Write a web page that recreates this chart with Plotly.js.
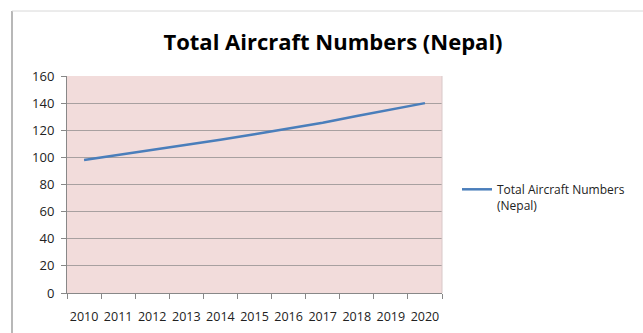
<!DOCTYPE html>
<html>
<head>
<meta charset="utf-8">
<script src="https://cdn.plot.ly/plotly-3.0.1.min.js"></script>
<style>
html,body{margin:0;padding:0;background:#fff;}
#chart{width:643px;height:333px;}
</style>
</head>
<body>
<div id="chart"></div>
<script>
const years = ["2010","2011","2012","2013","2014","2015","2016","2017","2018","2019","2020"];
const aircraft = [98, 101.7, 105.4, 109, 113, 117, 121, 125.5, 130.5, 135, 140];
const seriesName = "Total Aircraft Numbers<br>(Nepal)";
const chartTitle = "Total Aircraft Numbers (Nepal)";
const yTicks = [0, 20, 40, 60, 80, 100, 120, 140, 160];

const W = 643, H = 333;
const m = {l: 67, r: 201, t: 76, b: 40};
const pw = W - m.l - m.r, ph = H - m.t - m.b;
const px = x => (x - m.l) / pw;
const py = y => (H - m.b - y) / ph;

const font = "Open Sans, Liberation Sans, sans-serif";

Plotly.newPlot("chart", [{
  x: years,
  y: aircraft,
  type: "scatter",
  mode: "lines",
  name: seriesName,
  line: {color: "#4a7ebb", width: 2.5},
  showlegend: true
}], {
  width: W, height: H,
  margin: m,
  paper_bgcolor: "#ffffff",
  plot_bgcolor: "#f2dcdb",
  title: {
    text: "<b>" + chartTitle + "</b>",
    font: {family: font, size: 22, color: "#000"},
    x: 333 / W, xanchor: "center",
    y: 1 - 42 / H, yanchor: "middle"
  },
  xaxis: {
    type: "category",
    range: [-0.5, years.length - 0.5],
    tickson: "boundaries",
    tickangle: 0,
    ticks: "outside", ticklen: 5, tickcolor: "#888",
    showline: true, linecolor: "#888", linewidth: 1,
    showgrid: false, zeroline: false,
    tickfont: {family: font, size: 12.5, color: "#222"},
    ticklabelstandoff: 12,
    fixedrange: true
  },
  yaxis: {
    range: [0, 160],
    tickvals: yTicks,
    ticks: "outside", ticklen: 5, tickcolor: "#888",
    showline: true, linecolor: "#888", linewidth: 1,
    showgrid: true, gridcolor: "#a8a0a0", gridwidth: 1,
    zeroline: false,
    tickfont: {family: font, size: 13, color: "#222"},
    ticklabelstandoff: 4,
    fixedrange: true
  },
  legend: {
    x: px(457), xanchor: "left",
    y: py(175), yanchor: "top",
    valign: "top",
    bgcolor: "rgba(0,0,0,0)",
    font: {family: font, size: 12, color: "#222"},
    tracegroupgap: 0
  },
  shapes: [
    {type: "line", xref: "paper", yref: "paper", x0: px(12), x1: px(12), y0: py(11), y1: py(340), line: {color: "#a0a0a0", width: 1.5}},
    {type: "line", xref: "paper", yref: "paper", x0: px(12), x1: px(650), y0: py(11), y1: py(11), line: {color: "#d8d8d8", width: 1}},
    {type: "line", xref: "paper", yref: "paper", x0: 1, x1: 1, y0: 0, y1: 1, line: {color: "#d8c8c8", width: 1}}
  ]
}, {displayModeBar: false, staticPlot: true});
</script>
</body>
</html>
